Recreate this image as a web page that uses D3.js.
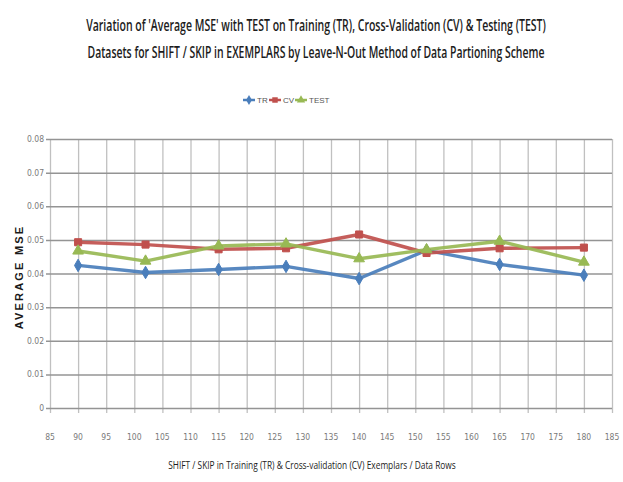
<!DOCTYPE html>
<html>
<head>
<meta charset="utf-8">
<script src="https://cdn.jsdelivr.net/npm/d3@7"></script>
<style>
  body { margin: 0; background: #fff; }
  svg { display: block; }
</style>
</head>
<body>
<script>
// Shift / skip sizes (data rows) and the average MSE for each dataset
const shiftRows = [90, 102, 115, 127, 140, 152, 165, 180];
const trMSE   = [0.0424, 0.0403, 0.0412, 0.0421, 0.0385, 0.0469, 0.0427, 0.0395];
const cvMSE   = [0.0493, 0.0486, 0.0472, 0.0475, 0.0516, 0.0461, 0.0475, 0.0477];
const testMSE = [0.0467, 0.0437, 0.0482, 0.0488, 0.0444, 0.0471, 0.0496, 0.0434];

const seriesNames = ["TR", "CV", "TEST"];
const xTicks = [85, 90, 95, 100, 105, 110, 115, 120, 125, 130, 135, 140, 145, 150, 155, 160, 165, 170, 175, 180, 185];
const yTicks = [0, 0.01, 0.02, 0.03, 0.04, 0.05, 0.06, 0.07, 0.08];
const yTickLabels = ["0", "0.01", "0.02", "0.03", "0.04", "0.05", "0.06", "0.07", "0.08"];

const titleLines = [
  "Variation of 'Average MSE' with TEST on Training (TR), Cross-Validation  (CV) & Testing (TEST)",
  "Datasets for SHIFT / SKIP in EXEMPLARS by Leave-N-Out Method of Data Partioning Scheme"
];
const xTitle = "SHIFT / SKIP in Training (TR) & Cross-validation (CV) Exemplars /  Data Rows";
const yTitle = "AVERAGE MSE";

const W = 623, H = 482;
const margin = { left: 50, right: 11, top: 139, bottom: 74 };

const svg = d3.select("body").append("svg")
  .attr("width", W).attr("height", H)
  .style("font-family", "'Open Sans', 'Liberation Sans', sans-serif");

const x = d3.scaleLinear().domain([85, 185]).range([margin.left, W - margin.right]);
const y = d3.scaleLinear().domain([0, 0.08]).range([H - margin.bottom, margin.top]);

const series = [
  { name: seriesNames[0], values: trMSE,   color: "#4a7ebb", symbol: d3.symbolDiamond },
  { name: seriesNames[1], values: cvMSE,   color: "#c0504d", symbol: d3.symbolSquare },
  { name: seriesNames[2], values: testMSE, color: "#98b954", symbol: d3.symbolTriangle }
];

// Draws a line of text centred at (cx, cy), narrowed horizontally to a given width
function condensedText(parent, str, cx, cy, size, width, weight) {
  const g = parent.append("g");
  const t = g.append("text")
    .attr("text-anchor", "middle")
    .attr("font-size", size)
    .attr("font-weight", weight)
    .attr("fill", "#1c1c1c")
    .text(str);
  const natural = t.node().getComputedTextLength();
  g.attr("transform", `translate(${cx},${cy}) scale(${width / natural},1)`);
  return t;
}

// Titles
titleLines.forEach((line, i) => {
  condensedText(svg, line, 316, 31 + i * 27, 16, i === 0 ? 460 : 457, 600);
});

// Vertical gridlines (from x axis ticks)
svg.append("g")
  .attr("transform", `translate(0,${H - margin.bottom})`)
  .call(d3.axisBottom(x).tickValues(xTicks).tickSize(-(H - margin.top - margin.bottom)).tickSizeOuter(0).tickFormat(""))
  .call(g => g.select(".domain").remove())
  .call(g => g.selectAll(".tick line").attr("stroke", "#c0c0c0").attr("stroke-width", 1.3).attr("y2", -(H - margin.top - margin.bottom)).attr("y1", 5));

// Horizontal gridlines (from y axis ticks)
svg.append("g")
  .attr("transform", `translate(${margin.left},0)`)
  .call(d3.axisLeft(y).tickValues(yTicks).tickSize(-(W - margin.left - margin.right)).tickFormat(""))
  .call(g => g.select(".domain").remove())
  .call(g => g.selectAll(".tick line").attr("stroke", "#949494").attr("stroke-width", 1.5).attr("x1", -4));

// Tick labels
svg.append("g").selectAll("text").data(xTicks).join("text")
  .attr("x", d => x(d)).attr("y", 440)
  .attr("text-anchor", "middle")
  .attr("font-size", 8.5)
  .attr("fill", "#7a7a7a")
  .style("font-family", "'Liberation Sans Narrow', 'DejaVu Sans Condensed', 'Liberation Sans', sans-serif")
  .text(d => d);

svg.append("g").selectAll("text").data(yTicks).join("text")
  .attr("x", 44).attr("y", d => y(d) + 3)
  .attr("text-anchor", "end")
  .attr("font-size", 8.5)
  .attr("fill", "#7a7a7a")
  .style("font-family", "'Liberation Sans Narrow', 'DejaVu Sans Condensed', 'Liberation Sans', sans-serif")
  .text((d, i) => yTickLabels[i]);

// Axis titles
condensedText(svg, xTitle, 312, 469, 11, 288, 500);

svg.append("text")
  .attr("transform", "translate(23,277) rotate(-90)")
  .attr("text-anchor", "middle")
  .attr("font-size", 11)
  .attr("font-weight", "bold")
  .attr("letter-spacing", 2.2)
  .attr("fill", "#1a1a1a")
  .style("font-family", "'Liberation Sans', sans-serif")
  .text(yTitle);

// Series lines and markers
const line = d3.line().x((d, i) => x(shiftRows[i])).y(d => y(d));
const plot = svg.append("g");
series.forEach(s => {
  plot.append("path")
    .datum(s.values)
    .attr("d", line)
    .attr("fill", "none")
    .attr("stroke", s.color)
    .attr("stroke-width", 3.4)
    .attr("stroke-linejoin", "round")
    .attr("opacity", 0.92);
});
series.forEach(s => {
  plot.append("g").selectAll("path").data(s.values).join("path")
    .attr("transform", (d, i) => `translate(${x(shiftRows[i])},${y(d)})`)
    .attr("d", d3.symbol().type(s.symbol).size(s.symbol === d3.symbolDiamond ? 45 : 50))
    .attr("fill", s.color)
    .attr("stroke", s.color)
    .attr("stroke-width", 1);
});

// Legend
const legend = svg.append("g").attr("transform", "translate(243,100)");
const legendX = [0, 26, 52];
series.forEach((s, i) => {
  const g = legend.append("g").attr("transform", `translate(${legendX[i]},0)`);
  g.append("line").attr("x1", 0).attr("x2", 12).attr("stroke", s.color).attr("stroke-width", 2.5);
  g.append("path").attr("transform", "translate(6,0)")
    .attr("d", d3.symbol().type(s.symbol).size(30))
    .attr("fill", s.color);
  g.append("text").attr("x", 14).attr("y", 3)
    .attr("font-size", 8)
    .attr("fill", "#555")
    .style("font-family", "'Liberation Sans Narrow', 'Liberation Sans', sans-serif")
    .text(s.name);
});
</script>
</body>
</html>
